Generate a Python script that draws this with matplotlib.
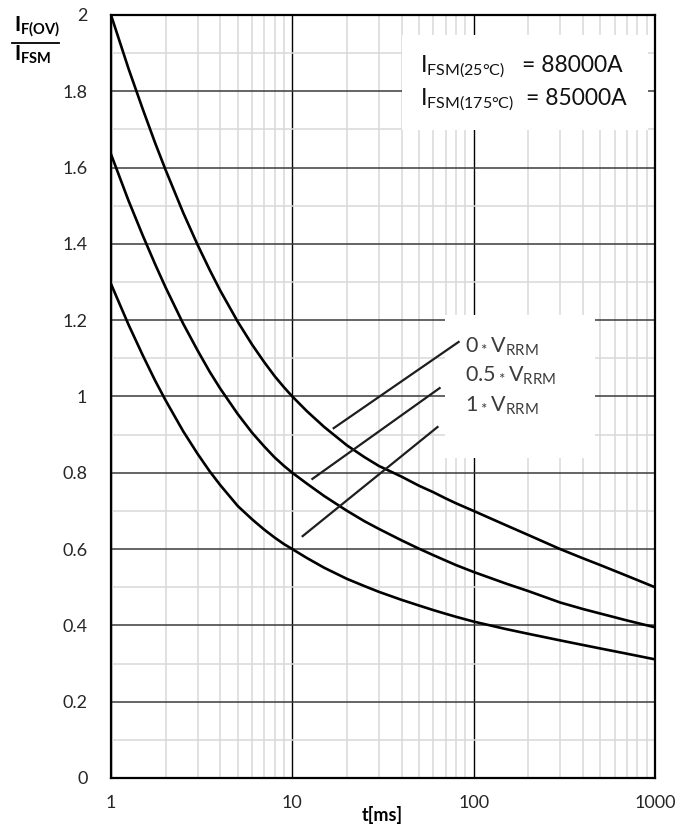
import numpy as np
import matplotlib
matplotlib.use("Agg")
from matplotlib import pyplot as plt
from matplotlib.patches import Rectangle
from matplotlib.lines import Line2D

plt.rcParams['font.family'] = ['Lato', 'DejaVu Sans']
plt.rcParams['mathtext.fontset'] = 'custom'
plt.rcParams['mathtext.rm'] = 'Lato'
plt.rcParams['mathtext.it'] = 'Lato'
plt.rcParams['mathtext.bf'] = 'Lato:bold'

# waktu t [ms] tempat nilai kurva dibaca
t = [1, 1.25, 1.5, 1.75, 2, 2.5, 3, 3.5, 4, 5, 6, 7, 8, 9, 10, 12, 15, 20, 25, 30,
     40, 50, 60, 70, 80, 100, 150, 200, 300, 400, 500, 700, 1000]

# I_F(OV)/I_FSM untuk 0, 0.5 dan 1 * V_RRM
y_0v = [2.00, 1.859, 1.752, 1.665, 1.594, 1.482, 1.398, 1.332, 1.278, 1.196, 1.136, 1.09, 1.053,
        1.024, 1.00, 0.962, 0.92, 0.872, 0.841, 0.818, 0.79, 0.766, 0.749, 0.733, 0.72, 0.70,
        0.663, 0.637, 0.60, 0.576, 0.558, 0.53, 0.50]
y_05v = [1.635, 1.513, 1.421, 1.347, 1.286, 1.191, 1.121, 1.065, 1.021, 0.954, 0.905, 0.869, 0.84,
         0.818, 0.80, 0.772, 0.739, 0.7005, 0.673, 0.653, 0.623, 0.601, 0.584, 0.57, 0.558,
         0.54, 0.51, 0.49, 0.46, 0.443, 0.431, 0.413, 0.395]
y_1v = [1.295, 1.188, 1.107, 1.042, 0.99, 0.909, 0.85, 0.804, 0.768, 0.713, 0.678, 0.651, 0.63,
        0.613, 0.60, 0.577, 0.551, 0.522, 0.503, 0.488, 0.467, 0.452, 0.44, 0.4305, 0.4225,
        0.41, 0.3906, 0.378, 0.3607, 0.3487, 0.3395, 0.3258, 0.311]

# garis penunjuk label
lead_t = [[16.9, 82.6], [12.9, 64.9], [11.4, 63.2]]
lead_y = [[0.917, 1.143], [0.784, 1.022], [0.634, 0.920]]
lead_txt = [r'0$\,_{*}\,$V$_{\mathrm{RRM}}$',
            r'0.5$\,_{*}\,$V$_{\mathrm{RRM}}$',
            r'1$\,_{*}\,$V$_{\mathrm{RRM}}$']

xticks = [1, 10, 100, 1000]
xlabels = ['1', '10', '100', '1000']
yticks = [0, 0.2, 0.4, 0.6, 0.8, 1.0, 1.2, 1.4, 1.6, 1.8, 2.0]
ylabels = ['0', '0.2', '0.4', '0.6', '0.8', '1', '1.2', '1.4', '1.6', '1.8', '2']

fig = plt.figure(figsize=(6.92, 8.35), dpi=100)
ax = fig.add_axes([111/692, 57/835, 544/692, 763/835])

ax.set_xscale('log')
ax.set_xlim(1, 1000)
ax.set_ylim(0, 2)
ax.set_xticks(xticks)
ax.set_xticklabels(xlabels)
ax.set_yticks(yticks)
ax.set_yticklabels(ylabels)
ax.set_yticks(np.arange(0.1, 2.0, 0.2), minor=True)
ax.xaxis.set_minor_locator(matplotlib.ticker.LogLocator(base=10, subs=range(2, 10)))
ax.xaxis.set_minor_formatter(matplotlib.ticker.NullFormatter())
ax.tick_params(which='both', length=0)
ax.tick_params(axis='y', pad=17, labelsize=13, labelcolor='#262626')
ax.tick_params(axis='x', pad=12, labelsize=13, labelcolor='#262626')

# grid
ax.grid(which='minor', axis='both', color='#d9d9d9', lw=1.1, zorder=0)
ax.grid(which='major', axis='y', color='#3a3a3a', lw=1.1, zorder=1)
ax.grid(which='major', axis='x', color='black', lw=1.0, zorder=1)
ax.set_axisbelow(True)

for s in ax.spines.values():
    s.set_linewidth(1.6)
    s.set_color('black')

# kotak putih untuk teks
ax.add_patch(Rectangle((0.535, 0.849), 0.452, 0.125, transform=ax.transAxes,
                       facecolor='white', edgecolor='none', zorder=2))
ax.add_patch(Rectangle((0.614, 0.419), 0.276, 0.188, transform=ax.transAxes,
                       facecolor='white', edgecolor='none', zorder=2))

for yv in (y_0v, y_05v, y_1v):
    ax.plot(t, yv, color='black', lw=1.9, zorder=4, solid_joinstyle='round')

for tt, yy in zip(lead_t, lead_y):
    ax.plot(tt, yy, color='#1e1e1e', lw=1.6, zorder=5)

lab_y = [353, 382, 412]
for txt, py in zip(lead_txt, lab_y):
    fig.text(465/692, 1 - py/835, txt, fontsize=15.5, color='#3c3c3c', va='baseline', ha='left')

fig.text(420/692, 1 - 72/835, r'I$_{\mathrm{FSM(25°C)}}$', fontsize=16.5, color='#111111', va='baseline')
fig.text(522/692, 1 - 72/835, '= 88000A', fontsize=16.5, color='#111111', va='baseline')
fig.text(420/692, 1 - 105/835, r'I$_{\mathrm{FSM(175°C)}}$', fontsize=16.5, color='#111111', va='baseline')
fig.text(526/692, 1 - 105/835, '= 85000A', fontsize=16.5, color='#111111', va='baseline')

# label sumbu y berbentuk pecahan
fig.text(14/692, 1 - 31/835, r'$\mathbf{I}_{\mathbf{F(OV)}}$', fontsize=15, va='baseline')
fig.text(14/692, 1 - 61/835, r'$\mathbf{I}_{\mathbf{FSM}}$', fontsize=15, va='baseline')
fig.add_artist(Line2D([12/692, 59/692], [1 - 43/835, 1 - 43/835], color='black', lw=1.3))

fig.text(382/692, 1 - 821/835, 't[ms]', fontsize=13, fontweight='bold', ha='center', va='baseline')

fig.savefig('out.png', dpi=100, facecolor='white')
